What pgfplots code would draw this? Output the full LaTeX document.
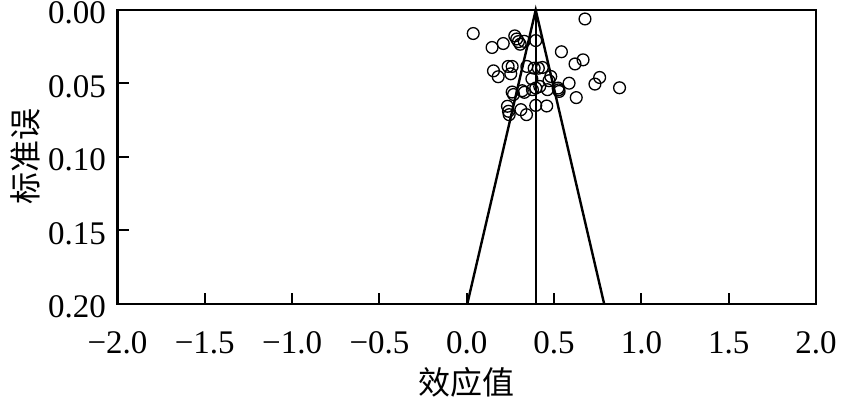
\documentclass[border=0pt]{standalone}
\usepackage{pgfplots}
\pgfplotsset{compat=1.18}
\usepackage{fontspec}
\setmainfont{Liberation Serif}
\newfontfamily\cjk{Noto Sans CJK SC}
\usetikzlibrary{calc}
\begin{document}
\begin{tikzpicture}
\begin{axis}[
  scale only axis,
  width=698.5pt, height=294pt,
  xmin=-2, xmax=2, ymin=0, ymax=0.2,
  y dir=reverse,
  axis line style={line width=2.2pt},
  tick align=inside,
  xtick pos=bottom, ytick pos=left,
  major tick length=11pt,
  tick style={line width=2pt, black},
  xtick={-2,-1.5,-1,-0.5,0,0.5,1,1.5,2},
  xticklabels={−2.0,−1.5,−1.0,−0.5,0.0,0.5,1.0,1.5,2.0},
  ytick={0,0.05,0.1,0.15,0.2},
  yticklabels={0.00,0.05,0.10,0.15,0.20},
  tick label style={font=\fontsize{33}{33}\selectfont},
  xticklabel style={yshift=-24pt},
  yticklabel style={xshift=-8pt, yshift=-3pt},
  xlabel={\cjk 效应值},
  ylabel={\cjk 标准误},
  label style={font=\fontsize{32}{32}\selectfont},
  xlabel style={at={(axis description cs:0.5,0)}, anchor=center, yshift=-78pt},
  ylabel style={at={(axis description cs:0,0.5)}, anchor=center, rotate=0, yshift=92pt},
  clip=false,
]
\addplot[black, line width=2.4pt] coordinates {(0.003,0.2) (0.395,0) (0.787,0.2)};
\addplot[black, line width=2.4pt] coordinates {(0.395,0) (0.395,0.2)};
\addplot[only marks, mark=o, mark size=5.9pt, mark options={line width=1.3pt, black}] coordinates {
(0.677,0.0061)
(0.037,0.0160)
(0.145,0.0255)
(0.209,0.0228)
(0.275,0.0176)
(0.286,0.0197)
(0.296,0.0215)
(0.306,0.0233)
(0.329,0.0213)
(0.395,0.0208)
(0.542,0.0284)
(0.153,0.0414)
(0.180,0.0454)
(0.237,0.0384)
(0.260,0.0384)
(0.252,0.0434)
(0.344,0.0384)
(0.386,0.0396)
(0.410,0.0396)
(0.433,0.0391)
(0.373,0.0468)
(0.481,0.0452)
(0.471,0.0481)
(0.586,0.0498)
(0.620,0.0367)
(0.666,0.0339)
(0.734,0.0504)
(0.761,0.0459)
(0.875,0.0529)
(0.260,0.0558)
(0.268,0.0575)
(0.318,0.0549)
(0.330,0.0560)
(0.376,0.0542)
(0.395,0.0531)
(0.418,0.0520)
(0.462,0.0542)
(0.523,0.0531)
(0.529,0.0554)
(0.526,0.0543)
(0.627,0.0596)
(0.395,0.0649)
(0.458,0.0653)
(0.310,0.0678)
(0.342,0.0712)
(0.233,0.0655)
(0.239,0.0689)
(0.243,0.0712)
};
\end{axis}
\pgfresetboundingbox
\path[use as bounding box] ($(current axis.south west)+(-117.5pt,-96pt)$) rectangle ($(current axis.north east)+(26pt,10pt)$);
\end{tikzpicture}
\end{document}
